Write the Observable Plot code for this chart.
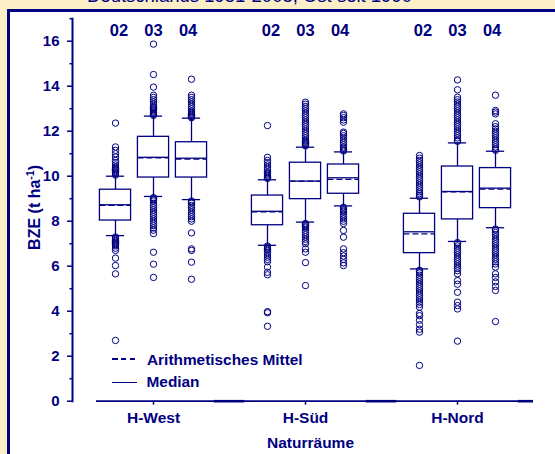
<!DOCTYPE html>
<html><head><meta charset="utf-8">
<script src="https://cdn.jsdelivr.net/npm/d3@7"></script>
<script src="https://cdn.jsdelivr.net/npm/@observablehq/plot@0.6"></script>
<style>
html,body{margin:0;padding:0;}
body{width:555px;height:454px;overflow:hidden;background:#fcefc8;position:relative;font-family:"Liberation Sans",Arial,sans-serif;color:#000080;}
#title{position:absolute;left:87px;top:-13px;font-size:18.5px;line-height:18.5px;white-space:nowrap;}
#panel{position:absolute;left:7px;top:9px;width:600px;height:500px;background:#fff;border-left:3.5px solid #000080;border-top:3.5px solid #000080;}
#chart{position:absolute;left:0;top:0;}
#chart text{font-weight:bold;}
.leg{position:absolute;font-weight:bold;font-size:15.4px;line-height:15.4px;white-space:nowrap;}
.dash{position:absolute;left:112px;top:358.3px;width:23.3px;height:2px;background:repeating-linear-gradient(90deg,#000080 0 5.5px,transparent 5.5px 8.9px);}
.solid{position:absolute;left:112px;top:381.8px;width:25px;height:1px;background:#000080;}
</style></head>
<body>
<div id="title">Deutschlands 1951-2005, Ost seit 1990</div>
<div id="panel"></div>
<div id="chart"></div>
<div class="dash"></div><div class="leg" style="left:147px;top:352px">Arithmetisches Mittel</div>
<div class="solid"></div><div class="leg" style="left:146.5px;top:374.3px">Median</div>
<script>
const groups = ["H-West", "H-Süd", "H-Nord"];
const years = ["02", "03", "04"];
// box statistics, order: West 02,03,04, Süd 02,03,04, Nord 02,03,04
const q1          = [8.03, 9.94, 9.94, 7.82, 8.98, 9.22, 6.58, 8.08, 8.58];
const q3          = [9.40, 11.75, 11.51, 9.14, 10.60, 10.52, 8.33, 10.43, 10.36];
const median      = [8.73, 10.84, 10.80, 8.44, 9.78, 9.93, 7.53, 9.32, 9.47];
const mean        = [8.70, 10.82, 10.76, 8.42, 9.78, 9.86, 7.44, 9.30, 9.43];
const whiskerLow  = [7.36, 9.10, 8.96, 6.93, 7.96, 8.68, 5.88, 7.10, 7.71];
const whiskerHigh = [10.00, 12.67, 12.58, 9.84, 11.29, 11.08, 9.02, 11.48, 11.11];

const outliersWest = [
  [10.05,10.1,10.15,10.2,10.25,10.3,10.35,10.4,10.5,10.6,10.7,10.85,11.0,11.15,11.3,12.36,
   7.3,7.25,7.2,7.15,7.1,7.05,7.0,6.95,6.9,6.8,6.7,6.36,6.03,5.66,2.70],
  [12.7,12.75,12.8,12.85,12.9,12.95,13.0,13.05,13.1,13.2,13.3,13.4,13.5,13.6,13.96,14.52,15.87,
   9.05,9.0,8.95,8.9,8.8,8.7,8.6,8.5,8.4,8.3,8.2,8.1,8.0,7.9,7.8,7.7,7.6,7.45,6.62,6.09,5.5],
  [12.6,12.65,12.7,12.75,12.8,12.85,12.9,13.0,13.1,13.2,13.3,13.4,13.5,13.6,14.31,
   8.9,8.85,8.8,8.7,8.6,8.5,8.4,8.3,8.2,8.1,8.0,7.48,6.77,6.7,6.18,5.42]
];
const outliersSued = [
  [9.9,9.95,10.0,10.05,10.1,10.15,10.2,10.3,10.4,10.5,10.6,10.7,10.84,12.25,
   6.9,6.85,6.8,6.75,6.7,6.6,6.5,6.4,6.3,6.2,5.96,5.73,5.62,3.98,3.93,3.33],
  [11.35,11.4,11.45,11.5,11.55,11.6,11.7,11.8,11.9,12.0,12.1,12.2,12.3,12.4,12.5,12.6,12.7,12.8,12.9,13.0,13.1,13.2,13.29,
   7.9,7.85,7.8,7.75,7.7,7.6,7.5,7.4,7.3,7.2,7.1,7.0,6.77,6.62,6.16,5.14],
  [11.12,11.18,11.25,11.3,11.4,11.5,11.6,11.7,11.8,11.9,11.96,12.4,12.5,12.6,12.7,12.77,
   8.62,8.55,8.5,8.45,8.4,8.3,8.2,8.1,8.0,7.9,7.59,7.29,6.77,6.6,6.45,6.3,6.15,6.03]
];
const outliersNord = [
  [9.08,9.15,9.22,9.3,9.4,9.5,9.6,9.7,9.8,9.9,10.0,10.1,10.2,10.3,10.4,10.5,10.6,10.7,10.8,10.92,
   5.82,5.75,5.7,5.6,5.5,5.4,5.3,5.2,5.1,5.0,4.9,4.8,4.7,4.6,4.5,4.4,4.3,4.18,3.9,3.8,3.6,3.4,3.2,3.07,1.59],
  [11.55,11.6,11.7,11.8,11.9,12.0,12.1,12.2,12.3,12.4,12.5,12.6,12.7,12.8,12.9,13.0,13.1,13.2,13.3,13.4,13.51,13.84,14.28,
   7.05,7.0,6.9,6.8,6.7,6.6,6.5,6.4,6.3,6.2,6.1,6.0,5.9,5.8,5.66,5.36,5.2,4.84,4.4,4.25,4.1,2.67],
  [11.15,11.2,11.3,11.4,11.5,11.6,11.7,11.8,11.9,12.0,12.1,12.2,12.33,12.77,12.85,12.92,13.6,
   7.65,7.6,7.5,7.4,7.3,7.2,7.1,7.0,6.9,6.8,6.7,6.6,6.5,6.4,6.3,6.2,6.1,5.96,5.66,5.5,5.3,5.1,4.92,3.54]
];
const yTicks = [0, 2, 4, 6, 8, 10, 12, 14, 16];
const yMinor = [1, 3, 5, 7, 9, 11, 13, 15, 17];
const yLabel = "BZE (t ha-1)";
const xLabel = "Naturräume";

const navy = "#000080";
const outliers = [...outliersWest, ...outliersSued, ...outliersNord];
const boxes = [];
groups.forEach((g, gi) => years.forEach((yr, yi) => {
  const i = gi * 3 + yi;
  boxes.push({group: g, year: yr, gi, yi, pos: gi * 4 + yi,
    q1: q1[i], q3: q3[i], median: median[i], mean: mean[i], lo: whiskerLow[i], hi: whiskerHigh[i]});
}));
const points = boxes.flatMap((b, i) => outliers[i].map(v => ({pos: b.pos, v})));
const emptySlots = groups.map((g, gi) => gi * 4 + 3);
const groupTicks = groups.map((g, gi) => gi * 4 + 1);
const HW = 0.41, CAP = 0.24;
const xDomain = [-0.5, 11];

const chart = Plot.plot({
  width: 555, height: 454,
  marginLeft: 72, marginRight: 22, marginTop: 18.2, marginBottom: 53.3,
  style: {background: "transparent", color: navy, fontFamily: '"Liberation Sans", Arial, sans-serif', overflow: "visible"},
  x: {domain: xDomain, range: [96, 533], axis: null},
  y: {domain: [0, 17], axis: null},
  marks: [
    Plot.frame({anchor: "left", stroke: navy, strokeWidth: 2}),
    Plot.ruleY([0], {x1: xDomain[0], x2: xDomain[1], stroke: navy, strokeWidth: 1.8}),
    Plot.ruleY(emptySlots, {y: () => 0, x1: d => d - 0.4, x2: d => Math.min(d + 0.4, xDomain[1]), stroke: navy, strokeWidth: 2.6}),
    Plot.axisY({ticks: yTicks, tickSize: 5, tickPadding: 8, tickFormat: d => String(d), fontSize: 15, label: null, stroke: navy, fill: navy, strokeWidth: 1.5}),
    Plot.axisY({ticks: yMinor, tickSize: 2.5, tickFormat: () => "", label: null, stroke: navy, strokeWidth: 1.5}),
    Plot.axisX({ticks: groupTicks, tickFormat: d => groups[(d - 1) / 4], tickSize: 4, tickPadding: 7, fontSize: 15.5, label: null, stroke: navy, fill: navy, strokeWidth: 1.5}),
    Plot.dot(points, {x: "pos", y: "v", r: 3.2, stroke: navy, strokeWidth: 1, fill: "none"}),
    Plot.ruleX(boxes, {x: "pos", y1: "q3", y2: "hi", stroke: navy, strokeWidth: 1.3}),
    Plot.ruleX(boxes, {x: "pos", y1: "lo", y2: "q1", stroke: navy, strokeWidth: 1.3}),
    Plot.ruleY(boxes, {y: "hi", x1: d => d.pos - CAP, x2: d => d.pos + CAP, stroke: navy, strokeWidth: 1.3}),
    Plot.ruleY(boxes, {y: "lo", x1: d => d.pos - CAP, x2: d => d.pos + CAP, stroke: navy, strokeWidth: 1.3}),
    Plot.rect(boxes, {x1: d => d.pos - HW, x2: d => d.pos + HW, y1: "q1", y2: "q3", fill: "white", stroke: navy, strokeWidth: 1.3}),
    Plot.ruleY(boxes, {y: "median", x1: d => d.pos - HW, x2: d => d.pos + HW, stroke: navy, strokeWidth: 1.3}),
    Plot.ruleY(boxes, {y: "mean", x1: d => d.pos - HW, x2: d => d.pos + HW, stroke: navy, strokeWidth: 1.3, strokeDasharray: "6,3"}),
    Plot.text(boxes, {x: d => d.gi * 4 + 1 + (d.yi - 1) * 0.91, text: "year", frameAnchor: "top", lineAnchor: "middle", dy: 12.5, fontSize: 16.5, fill: navy}),
    Plot.text([xLabel], {x: groupTicks[1], frameAnchor: "bottom", lineAnchor: "middle", dy: 42.3, dx: 5, fontSize: 15.5, fill: navy}),
    Plot.text([yLabel], {frameAnchor: "left", rotate: -90, dx: -38, dy: -2.5, lineAnchor: "middle", textAnchor: "middle", fontSize: 16, fill: navy})
  ]
});
document.getElementById("chart").appendChild(chart);

// superscript in the y label
chart.querySelectorAll("text").forEach(t => {
  if (t.textContent === yLabel) {
    t.textContent = "";
    const ns = "http://www.w3.org/2000/svg";
    const a = document.createElementNS(ns, "tspan"); a.textContent = "BZE (t ha";
    const b = document.createElementNS(ns, "tspan"); b.textContent = "-1"; b.setAttribute("dy", "-6"); b.setAttribute("font-size", "10.5");
    const c = document.createElementNS(ns, "tspan"); c.textContent = ")"; c.setAttribute("dy", "6");
    t.append(a, b, c);
  }
});
</script>
</body></html>
